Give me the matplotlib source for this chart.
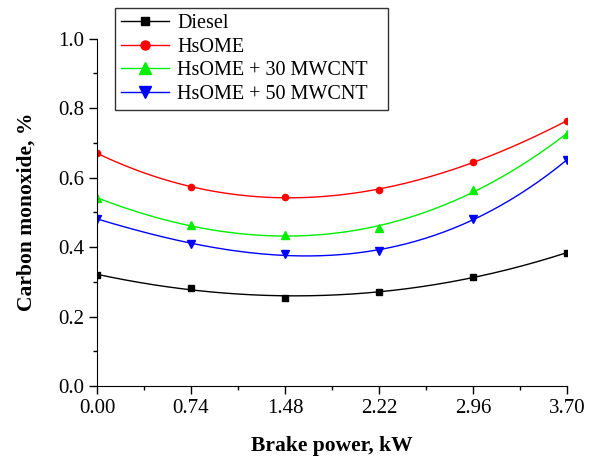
import numpy as np
import matplotlib.pyplot as plt
from matplotlib.lines import Line2D
from matplotlib.ticker import AutoMinorLocator

plt.rcParams['font.family'] = ['Liberation Serif', 'DejaVu Serif']

power = [0.00, 0.74, 1.48, 2.22, 2.96, 3.70]
diesel = [0.320, 0.282, 0.254, 0.272, 0.314, 0.383]
hsome = [0.670, 0.573, 0.544, 0.564, 0.645, 0.763]
hsome30 = [0.541, 0.462, 0.434, 0.454, 0.564, 0.725]
hsome50 = [0.481, 0.410, 0.379, 0.388, 0.481, 0.650]

series = [
    ('Diesel', diesel, 'black', 's', 4.5, 5.5),
    ('HsOME', hsome, 'red', 'o', 4.5, 6.5),
    ('HsOME + 30 MWCNT', hsome30, '#00ee00', '^', 6, 8),
    ('HsOME + 50 MWCNT', hsome50, 'blue', 'v', 6, 8),
]

fig = plt.figure(figsize=(6.03, 4.59), dpi=100)
ax = fig.add_axes([0.161, 0.159, 0.779, 0.757])

xs = np.linspace(power[0], power[-1], 200)
handles = []
for name, vals, color, mk, ms, lms in series:
    coef = np.polyfit(power, vals, 3)
    ax.plot(xs, np.polyval(coef, xs), color=color, lw=1)
    ax.plot(power, vals, linestyle='none', marker=mk, color=color, ms=ms)
    handles.append(Line2D([], [], color=color, lw=1, marker=mk, ms=lms,
                          label=name))

ax.set_xlim(0, 3.70)
ax.set_ylim(0, 1.0)
ax.set_xticks(power)
ax.set_xticklabels(['%.2f' % p for p in power])
ax.set_yticks([0.0, 0.2, 0.4, 0.6, 0.8, 1.0])
ax.set_yticklabels(['0.0', '0.2', '0.4', '0.6', '0.8', '1.0'])
ax.xaxis.set_minor_locator(AutoMinorLocator(2))
ax.yaxis.set_minor_locator(AutoMinorLocator(2))
ax.tick_params(which='major', direction='out', length=6, width=1, labelsize=15)
ax.tick_params(which='minor', direction='out', length=3, width=1)
ax.spines['top'].set_visible(False)
ax.spines['right'].set_visible(False)

ax.set_xlabel('Brake power, kW', fontsize=15.5, fontweight='bold', labelpad=13)
ax.set_ylabel('Carbon monoxide, %', fontsize=15.5, fontweight='bold', labelpad=15)

leg = ax.legend(handles=handles, loc='upper left',
                bbox_to_anchor=(0.038, 0.8, 0.581, 0.288), mode='expand',
                fontsize=14.5, frameon=True,
                fancybox=False, edgecolor='black', handlelength=2.4,
                labelspacing=0.22, borderpad=0.3, handletextpad=0.4,
                borderaxespad=0)
leg.get_frame().set_linewidth(1)

fig.savefig('out.png', dpi=100)
